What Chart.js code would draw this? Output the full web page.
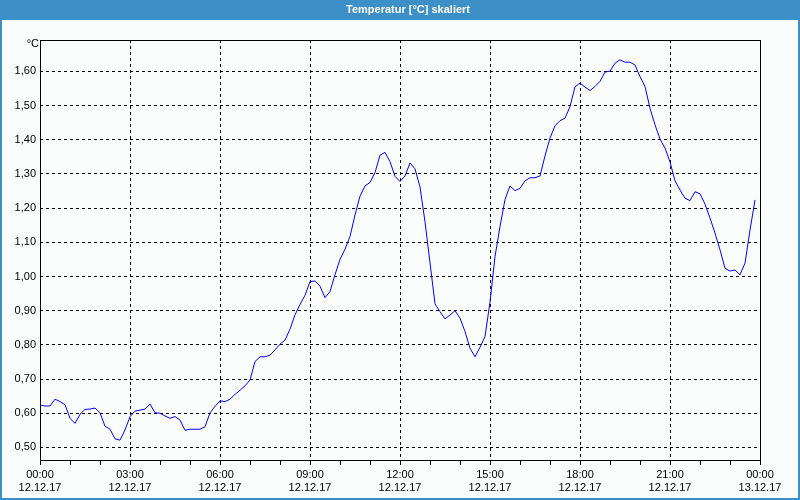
<!DOCTYPE html>
<html>
<head>
<meta charset="utf-8">
<script src="https://cdn.jsdelivr.net/npm/chart.js@4"></script>
<style>
  body { margin: 0; background: #fff; }
  canvas { display: block; }
</style>
</head>
<body>
<canvas id="temp" width="800" height="500"></canvas>
<script>
const chartTitle = 'Temperatur [°C] skaliert';
const unitLabel = '°C';

// one reading every 10 minutes, 12.12.17 00:00 .. 23:50
const temps = [
    0.624, 0.621, 0.621, 0.641, 0.634, 0.625, 0.585, 0.570, 0.597, 0.611, 0.612, 0.615,
    0.601, 0.562, 0.553, 0.525, 0.521, 0.551, 0.590, 0.606, 0.609, 0.612, 0.627, 0.601,
    0.600, 0.592, 0.585, 0.590, 0.580, 0.550, 0.553, 0.553, 0.553, 0.560, 0.601, 0.620,
    0.636, 0.634, 0.641, 0.655, 0.667, 0.680, 0.697, 0.751, 0.765, 0.765, 0.770, 0.785,
    0.802, 0.814, 0.846, 0.888, 0.918, 0.945, 0.985, 0.987, 0.972, 0.938, 0.956, 1.005,
    1.050, 1.080, 1.117, 1.180, 1.235, 1.265, 1.275, 1.304, 1.355, 1.363, 1.336, 1.293,
    1.278, 1.294, 1.332, 1.315, 1.262, 1.160, 1.040, 0.920, 0.897, 0.876, 0.887, 0.900,
    0.878, 0.839, 0.790, 0.765, 0.793, 0.824, 0.925, 1.058, 1.146, 1.225, 1.265, 1.251,
    1.258, 1.280, 1.289, 1.289, 1.294, 1.353, 1.405, 1.441, 1.456, 1.463, 1.497, 1.555,
    1.566, 1.554, 1.544, 1.556, 1.571, 1.598, 1.601, 1.624, 1.634, 1.627, 1.627, 1.619,
    1.585, 1.556, 1.492, 1.444, 1.402, 1.376, 1.335, 1.280, 1.253, 1.229, 1.222, 1.248,
    1.242, 1.212, 1.171, 1.127, 1.078, 1.024, 1.016, 1.019, 1.005, 1.039, 1.136, 1.224
];
const hours = temps.map((v, i) => i / 6);

const xTicks = [0, 3, 6, 9, 12, 15, 18, 21, 24];
const xTimes = ['00:00', '03:00', '06:00', '09:00', '12:00', '15:00', '18:00', '21:00', '00:00'];
const xDates = ['12.12.17', '12.12.17', '12.12.17', '12.12.17', '12.12.17', '12.12.17', '12.12.17', '12.12.17', '13.12.17'];
const yTicks = [0.5, 0.6, 0.7, 0.8, 0.9, 1.0, 1.1, 1.2, 1.3, 1.4, 1.5, 1.6];

const frame = {
    id: 'frame',
    beforeDraw(chart) {
        const c = chart.ctx;
        c.save();
        c.fillStyle = '#fbfdfc';
        c.fillRect(0, 0, 800, 500);
        c.fillStyle = '#3c8fc7';
        c.fillRect(0, 0, 800, 20);
        c.fillRect(0, 0, 2, 500);
        c.fillRect(798, 0, 2, 500);
        c.fillRect(0, 498, 800, 2);
        c.fillStyle = '#ffffff';
        c.font = 'bold 11px "Liberation Sans"';
        c.textAlign = 'center';
        c.textBaseline = 'middle';
        c.fillText(chartTitle, 408, 10);
        c.restore();
    },
    afterDraw(chart) {
        const c = chart.ctx;
        const a = chart.chartArea;
        c.save();
        c.strokeStyle = '#000';
        c.lineWidth = 1;
        c.strokeRect(a.left + 0.5, a.top + 0.5, a.right - a.left, a.bottom - a.top);
        // minor hour ticks under the time axis
        const xs = chart.scales.x;
        c.beginPath();
        for (let h = 0; h <= 24; h++) {
            const px = Math.round(xs.getPixelForValue(h)) + 0.5;
            c.moveTo(px, a.bottom);
            c.lineTo(px, a.bottom + 5);
        }
        c.stroke();
        c.fillStyle = '#000';
        c.font = '11px "Liberation Sans"';
        c.textAlign = 'right';
        c.textBaseline = 'middle';
        c.fillText(unitLabel, a.left - 1, a.top + 4);
        c.restore();
    }
};

const ctx = document.getElementById('temp');
const tempChart = new Chart(ctx, {
    type: 'line',
    data: {
        datasets: [{
            data: hours.map((h, i) => ({ x: h, y: temps[i] })),
            borderColor: '#0000ff',
            borderWidth: 1,
            pointRadius: 0,
            tension: 0,
            fill: false
        }]
    },
    options: {
        responsive: false,
        animation: false,
        layout: {
            padding: { left: 0, top: 40, right: 40, bottom: 0 }
        },
        plugins: {
            legend: { display: false },
            tooltip: { enabled: false },
            title: { display: false }
        },
        scales: {
            x: {
                type: 'linear',
                min: 0,
                max: 24,
                afterBuildTicks: s => {
                    s.ticks = xTicks.map(v => ({ value: v }));
                },
                afterFit: s => { s.height = 40; },
                border: { display: false, dash: [3, 3] },
                grid: {
                    color: '#000',
                    lineWidth: 1,
                    drawTicks: true,
                    tickLength: 5,
                    tickBorderDash: []
                },
                ticks: {
                    autoSkip: false,
                    maxRotation: 0,
                    padding: 3,
                    color: '#000',
                    font: { family: 'Liberation Sans', size: 11 },
                    callback: (v, i) => [xTimes[i], xDates[i]]
                }
            },
            y: {
                min: 0.463,
                max: 1.692,
                afterBuildTicks: s => {
                    s.ticks = yTicks.map(v => ({ value: v }));
                },
                afterFit: s => { s.width = 40; },
                border: { display: false, dash: [3, 3] },
                grid: {
                    color: '#000',
                    lineWidth: 1,
                    drawTicks: false
                },
                ticks: {
                    padding: 4,
                    color: '#000',
                    font: { family: 'Liberation Sans', size: 11 },
                    callback: v => v.toFixed(2).replace('.', ',')
                }
            }
        }
    },
    plugins: [frame]
});
</script>
</body>
</html>
